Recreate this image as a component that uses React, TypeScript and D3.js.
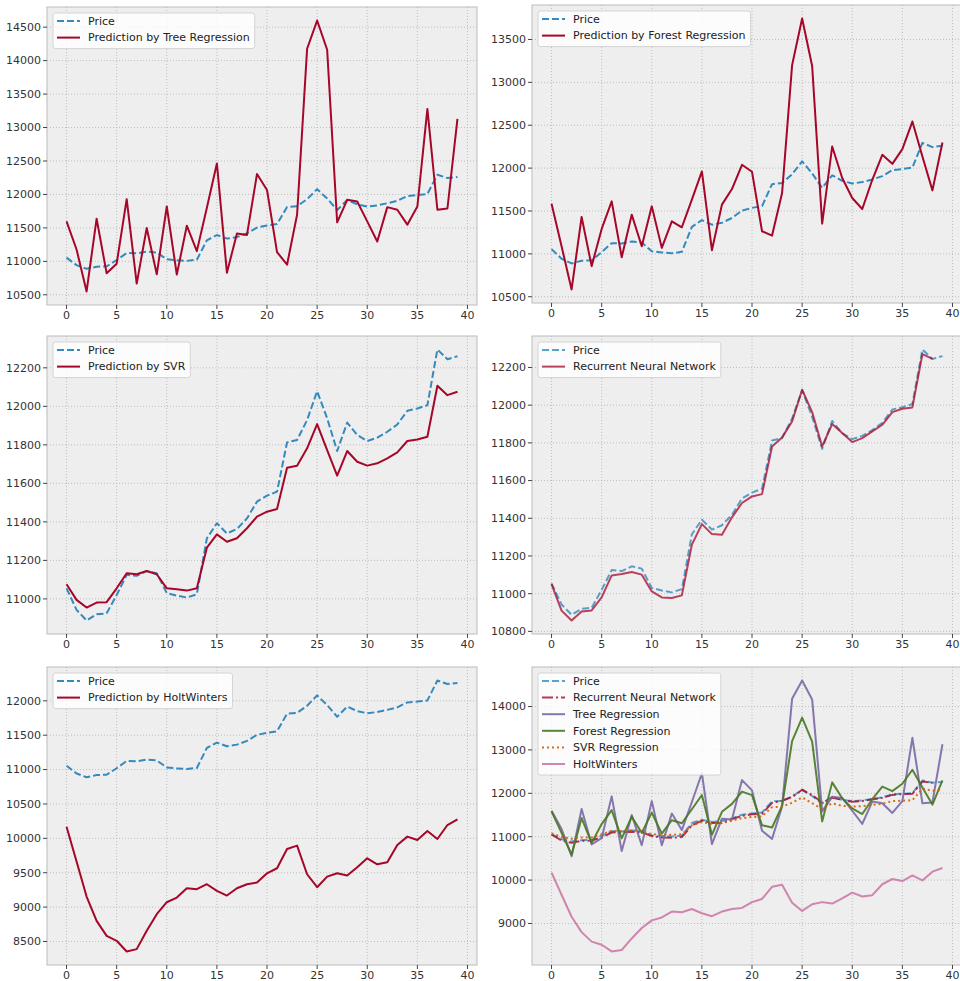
import React from 'react';
import * as d3 from 'd3';

// closing price, 40 days
const price = [
  11055, 10943, 10888, 10920, 10925, 11020, 11125, 11120, 11145, 11133,
  11030, 11017, 11007, 11024, 11315, 11393, 11340, 11363, 11418, 11505,
  11536, 11557, 11813, 11825, 11929, 12079, 11938, 11768, 11916, 11851,
  11820, 11837, 11868, 11906, 11977, 11989, 12006, 12295, 12245, 12260,
];

const treePred = [
  11598, 11177, 10550, 11637, 10821, 10965, 11929, 10668, 11499, 10806,
  11820, 10802, 11533, 11153, 11800, 12463, 10831, 11415, 11395, 12305,
  12067, 11138, 10950, 11696, 14178, 14599, 14163, 11583, 11919, 11894,
  11598, 11296, 11810, 11771, 11548, 11820, 13278, 11771, 11790, 13130,
];

const forestPred = [
  11585, 11089, 10585, 11430, 10857, 11291, 11612, 10961, 11457, 11089,
  11554, 11070, 11380, 11310, 11632, 11961, 11043, 11574, 11756, 12039,
  11957, 11264, 11213, 11709, 13201, 13744, 13190, 11353, 12252, 11884,
  11651, 11523, 11864, 12155, 12050, 12221, 12543, 12136, 11740, 12298,
];

const svrPred = [
  11076, 10995, 10955, 10981, 10983, 11055, 11133, 11128, 11145, 11128,
  11055, 11050, 11043, 11055, 11266, 11335, 11297, 11315, 11367, 11427,
  11453, 11467, 11681, 11692, 11782, 11908, 11773, 11640, 11768, 11712,
  11692, 11704, 11730, 11761, 11820, 11828, 11842, 12107, 12058, 12076,
];

// the RNN output stops one step short
const rnnPred = [
  11051, 10910, 10858, 10906, 10911, 10980, 11097, 11104, 11115, 11101,
  11012, 10980, 10977, 10991, 11260, 11369, 11316, 11313, 11405, 11481,
  11516, 11528, 11781, 11829, 11914, 12082, 11963, 11781, 11900, 11852,
  11804, 11825, 11861, 11896, 11963, 11981, 11988, 12271, 12246,
];

const hwPred = [
  10170, 9662, 9154, 8800, 8582, 8510, 8355, 8389, 8655, 8897,
  9071, 9139, 9275, 9260, 9333, 9236, 9168, 9275, 9333, 9357,
  9492, 9565, 9846, 9894, 9478, 9289, 9444, 9492, 9459, 9580,
  9710, 9623, 9652, 9904, 10025, 9977, 10107, 9991, 10194, 10277,
];

const xTicks = [0, 5, 10, 15, 20, 25, 30, 35, 40];
const ticksTree = [10500, 11000, 11500, 12000, 12500, 13000, 13500, 14000, 14500];
const ticksForest = [10500, 11000, 11500, 12000, 12500, 13000, 13500];
const ticksSvr = [11000, 11200, 11400, 11600, 11800, 12000, 12200];
const ticksRnn = [10800, 11000, 11200, 11400, 11600, 11800, 12000, 12200];
const ticksHw = [8500, 9000, 9500, 10000, 10500, 11000, 11500, 12000];
const ticksAll = [9000, 10000, 11000, 12000, 13000, 14000];

// bmh palette
const BLUE = '#348ABD';
const RED = '#A60628';
const PURPLE = '#7A68A6';
const GREEN = '#467821';
const ORANGE = '#D55E00';
const PINK = '#CC79A7';

const FONT = '"DejaVu Sans", sans-serif';
const FS = 11;

type Series = { label: string; values: number[]; color: string; dash?: string; opacity?: number };

const ctx = document.createElement('canvas').getContext('2d');
function textWidth(s: string) {
  if (!ctx) return s.length * FS * 0.55;
  ctx.font = `${FS}px "DejaVu Sans"`;
  return ctx.measureText(s).width;
}

const priceSeries = (opacity = 1): Series => ({ label: 'Price', values: price, color: BLUE, dash: '7,3', opacity });

const Panel = ({ x, y, w, h, series, yTicks }: { x: number; y: number; w: number; h: number; series: Series[]; yTicks: number[] }) => {
  const all = series.flatMap(s => s.values);
  const [lo, hi] = d3.extent(all) as [number, number];
  const pad = (hi - lo) * 0.05;
  const xs = d3.scaleLinear().domain([-1.95, 40.95]).range([0, w]);
  const ys = d3.scaleLinear().domain([lo - pad, hi + pad]).range([h, 0]);
  const line = d3.line<number>().x((_, i) => xs(i)).y(d => ys(d));

  const rowH = 16.6;
  const lw = Math.max(...series.map(s => textWidth(s.label)));
  const boxW = 35 + lw + 5;
  const boxH = 8 + (series.length - 1) * rowH + 11;

  return (
    <g transform={`translate(${x},${y})`}>
      <rect width={w} height={h} fill="#eeeeee" />
      {xTicks.map(t => (
        <line key={'gx' + t} x1={xs(t)} x2={xs(t)} y1={0} y2={h} stroke="#b2b2b2" strokeWidth={0.8} strokeDasharray="1,2" />
      ))}
      {yTicks.map(t => (
        <line key={'gy' + t} x1={0} x2={w} y1={ys(t)} y2={ys(t)} stroke="#b2b2b2" strokeWidth={0.8} strokeDasharray="1,2" />
      ))}
      <clipPath id={`clip-${x}-${y}`}>
        <rect width={w} height={h} />
      </clipPath>
      <g clipPath={`url(#clip-${x}-${y})`}>
        {series.map(s => (
          <path key={s.label} d={line(s.values) || ''} fill="none" stroke={s.color} strokeWidth={2}
            strokeDasharray={s.dash} strokeOpacity={s.opacity ?? 1} strokeLinejoin="round" />
        ))}
      </g>
      <rect width={w} height={h} fill="none" stroke="#bcbcbc" strokeWidth={1} />
      {xTicks.map(t => (
        <g key={'tx' + t} transform={`translate(${xs(t)},${h})`}>
          <line y2={4} stroke="#444" strokeWidth={1} />
          <text y={14} textAnchor="middle" fontFamily={FONT} fontSize={FS} fill="#333">{t}</text>
        </g>
      ))}
      {yTicks.map(t => (
        <g key={'ty' + t} transform={`translate(0,${ys(t)})`}>
          <line x2={-4} stroke="#444" strokeWidth={1} />
          <text x={-6} dy="0.35em" textAnchor="end" fontFamily={FONT} fontSize={FS} fill="#333">{t}</text>
        </g>
      ))}
      <g transform="translate(6,6)">
        <rect width={boxW} height={boxH} rx={2.5} fill="#ffffff" fillOpacity={0.8} stroke="#cccccc" strokeWidth={0.8} />
        {series.map((s, i) => (
          <g key={'lg' + s.label} transform={`translate(0,${8 + i * rowH})`}>
            <line x1={4} x2={27} stroke={s.color} strokeWidth={2} strokeDasharray={s.dash} strokeOpacity={s.opacity ?? 1} />
            <text x={35} dy="0.35em" fontFamily={FONT} fontSize={FS} fill="#222">{s.label}</text>
          </g>
        ))}
      </g>
    </g>
  );
};

export default function App() {
  const W = 430;
  const H = 298;
  return (
    <svg width={960} height={981} style={{ position: 'absolute', left: 0, top: 0, background: '#ffffff' }}>
      <Panel x={47} y={7} w={W} h={H} yTicks={ticksTree}
        series={[priceSeries(), { label: 'Prediction by Tree Regression', values: treePred, color: RED }]} />
      <Panel x={532} y={5} w={W} h={H} yTicks={ticksForest}
        series={[priceSeries(), { label: 'Prediction by Forest Regression', values: forestPred, color: RED }]} />
      <Panel x={47} y={336} w={W} h={H} yTicks={ticksSvr}
        series={[priceSeries(), { label: 'Prediction by SVR', values: svrPred, color: RED }]} />
      <Panel x={532} y={336} w={W} h={H} yTicks={ticksRnn}
        series={[priceSeries(0.8), { label: 'Recurrent Neural Network', values: rnnPred, color: RED, opacity: 0.75 }]} />
      <Panel x={47} y={667} w={W} h={H} yTicks={ticksHw}
        series={[priceSeries(), { label: 'Prediction by HoltWinters', values: hwPred, color: RED }]} />
      <Panel x={532} y={667} w={W} h={H} yTicks={ticksAll}
        series={[
          priceSeries(0.8),
          { label: 'Recurrent Neural Network', values: rnnPred, color: RED, dash: '11,3,2,3', opacity: 0.8 },
          { label: 'Tree Regression', values: treePred, color: PURPLE, opacity: 0.9 },
          { label: 'Forest Regression', values: forestPred, color: GREEN, opacity: 0.9 },
          { label: 'SVR Regression', values: svrPred, color: ORANGE, dash: '2,3', opacity: 0.9 },
          { label: 'HoltWinters', values: hwPred, color: PINK, opacity: 0.9 },
        ]} />
    </svg>
  );
}
